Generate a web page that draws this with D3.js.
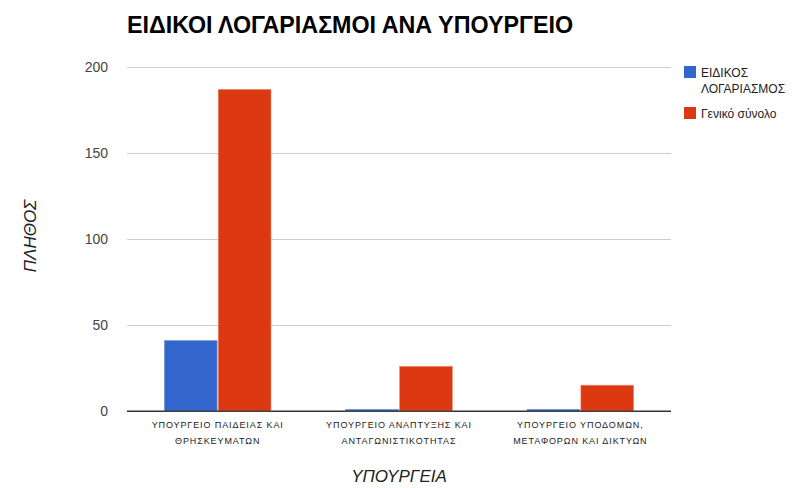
<!DOCTYPE html>
<html><head><meta charset="utf-8">
<script src="https://cdnjs.cloudflare.com/ajax/libs/d3/7.8.5/d3.min.js"></script>
<style>body{margin:0;background:#fff}svg{display:block}</style>
</head><body>
<script>
const categories = [
  ["ΥΠΟΥΡΓΕΙΟ ΠΑΙΔΕΙΑΣ ΚΑΙ", "ΘΡΗΣΚΕΥΜΑΤΩΝ"],
  ["ΥΠΟΥΡΓΕΙΟ ΑΝΑΠΤΥΞΗΣ ΚΑΙ", "ΑΝΤΑΓΩΝΙΣΤΙΚΟΤΗΤΑΣ"],
  ["ΥΠΟΥΡΓΕΙΟ ΥΠΟΔΟΜΩΝ,", "ΜΕΤΑΦΟΡΩΝ ΚΑΙ ΔΙΚΤΥΩΝ"]
];
const seriesNames = ["ΕΙΔΙΚΟΣ ΛΟΓΑΡΙΑΣΜΟΣ", "Γενικό σύνολο"];
const specialAccounts = [41, 1, 1];
const totals = [187, 26, 15];
const yTicks = [0, 50, 100, 150, 200];
const title = "ΕΙΔΙΚΟΙ ΛΟΓΑΡΙΑΣΜΟΙ ΑΝΑ ΥΠΟΥΡΓΕΙΟ";
const yTitle = "ΠΛΗΘΟΣ";
const xTitle = "ΥΠΟΥΡΓΕΙΑ";

const W = 798, H = 488;
const m = {left: 127, right: 127, top: 67, bottom: 77};
const colors = ["#3366cc", "#dc3912"];
const svg = d3.select("body").append("svg").attr("width", W).attr("height", H);

const x = d3.scaleBand().domain(d3.range(categories.length)).range([m.left, W - m.right]).paddingInner(0.4).paddingOuter(0.2);
const x1 = d3.scaleBand().domain([0, 1]).range([0, x.bandwidth()]).padding(0.02);
const y = d3.scaleLinear().domain([0, 200]).range([H - m.bottom, m.top]);

// gridlines
const gy = svg.append("g").attr("transform", `translate(${m.left},0)`)
  .call(d3.axisLeft(y).tickValues(yTicks).tickSize(-(W - m.left - m.right)).tickPadding(19));
gy.select(".domain").remove();
gy.selectAll(".tick line").attr("stroke", (d) => d === 0 ? "#333" : "#ccc").attr("stroke-width", 1);
gy.selectAll(".tick text").attr("font-family", "Arial, 'Liberation Sans', sans-serif").attr("font-size", 14).attr("fill", "#444");

// bars
const data = [specialAccounts, totals];
const groups = svg.append("g").selectAll("g").data(categories).join("g")
  .attr("transform", (d, i) => `translate(${x(i)},0)`);
groups.selectAll("rect").data((d, i) => data.map((s, k) => ({k, v: s[i]}))).join("rect")
  .attr("x", d => x1(d.k)).attr("width", x1.bandwidth())
  .attr("y", d => y(d.v)).attr("height", d => y(0) - y(d.v))
  .attr("fill", d => colors[d.k])
  .attr("stroke", d => d.k === 0 ? "#7a9be0" : "#ee8a70").attr("stroke-width", 0.6);

// baseline on top
svg.append("line").attr("x1", m.left).attr("x2", W - m.right).attr("y1", y(0)).attr("y2", y(0)).attr("stroke", "#333").attr("stroke-width", 1);

// category labels
const cl = svg.append("g").selectAll("text").data(categories).join("text")
  .attr("x", (d, i) => x(i) + x.bandwidth() / 2).attr("y", 428)
  .attr("text-anchor", "middle").attr("font-family", "Arial, 'Liberation Sans', sans-serif")
  .attr("font-size", 9).attr("letter-spacing", 0.9).attr("fill", "#222");
cl.selectAll("tspan").data(d => d).join("tspan")
  .attr("x", function() { return this.parentNode.getAttribute("x"); })
  .attr("dy", (d, i) => i === 0 ? 0 : 16).text(d => d);

// title
svg.append("text").attr("x", 127).attr("y", 33).attr("font-family", "Arial, 'Liberation Sans', sans-serif")
  .attr("font-weight", "bold").attr("font-size", 24).attr("fill", "#000")
  .attr("textLength", 446).attr("lengthAdjust", "spacingAndGlyphs").text(title);

// axis titles
svg.append("text").attr("transform", `translate(36,236) rotate(-90)`)
  .attr("text-anchor", "middle").attr("font-family", "Arial, 'Liberation Sans', sans-serif")
  .attr("font-style", "italic").attr("font-size", 17).attr("fill", "#222").text(yTitle);
svg.append("text").attr("x", (m.left + W - m.right) / 2).attr("y", 482)
  .attr("text-anchor", "middle").attr("font-family", "Arial, 'Liberation Sans', sans-serif")
  .attr("font-style", "italic").attr("font-size", 17).attr("fill", "#222").text(xTitle);

// legend
const lg = svg.append("g").attr("transform", "translate(684,66)");
const legendLines = [["ΕΙΔΙΚΟΣ", "ΛΟΓΑΡΙΑΣΜΟΣ"], ["Γενικό σύνολο"]];
const legendY = [0, 41];
seriesNames.forEach((name, k) => {
  const g = lg.append("g").attr("transform", `translate(0,${legendY[k]})`);
  g.append("rect").attr("width", 12).attr("height", 12).attr("fill", colors[k]);
  const t = g.append("text").attr("x", 17).attr("y", 10.5).attr("font-family", "Arial, 'Liberation Sans', sans-serif")
    .attr("font-size", 12).attr("fill", "#222");
  legendLines[k].forEach((ln, j) => t.append("tspan").attr("x", 17).attr("dy", j === 0 ? 0 : 16).text(ln));
});
</script>
</body></html>
